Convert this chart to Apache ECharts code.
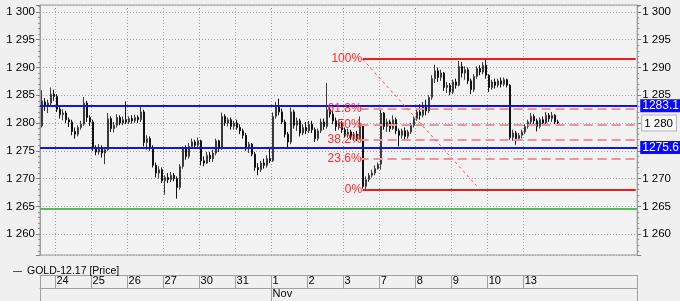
<!DOCTYPE html>
<html><head><meta charset="utf-8">
<script src="https://cdn.jsdelivr.net/npm/echarts@6/dist/echarts.min.js"></script>
<style>html,body{margin:0;padding:0;background:#f0f0f0}#c{width:680px;height:301px}</style>
</head><body><div id="c"></div>
<script>
// ---- data ----
const dayLabels = ['23','24','25','26','27','30','31','1','2','3','7','8','9','10','13'];
const barsPerDay = [5,12,12,12,12,12,12,12,12,12,12,12,12,12,12];
const monthLabel = 'Nov';
const monthStartDay = '1';
const futureSlots = 26;
// [open, close, low, high]
const candles = [
[1279.5,1284.0,1279.2,1285.9],[1283.8,1283.0,1282.2,1284.5],[1283.0,1283.6,1281.8,1284.2],[1283.6,1285.2,1283.0,1286.4],[1285.2,1284.8,1284.0,1286.0],
[1284.8,1282.5,1282.0,1285.2],[1282.5,1281.5,1280.8,1283.0],[1281.5,1281.8,1280.5,1282.5],[1281.8,1280.6,1280.0,1282.2],[1280.6,1280.2,1279.3,1281.0],[1280.2,1278.5,1277.8,1280.6],[1278.5,1278.0,1277.2,1279.2],[1278.0,1279.2,1277.6,1279.6],[1279.2,1279.8,1278.8,1280.4],[1279.8,1283.6,1279.5,1284.7],[1283.6,1281.0,1280.2,1284.0],[1281.0,1280.2,1279.5,1281.4],
[1280.2,1275.4,1275.0,1280.6],[1275.4,1274.8,1274.2,1276.0],[1274.8,1275.5,1274.3,1276.2],[1275.5,1274.6,1273.8,1276.0],[1274.6,1275.2,1272.6,1275.6],[1275.2,1280.8,1275.0,1281.8],[1280.8,1279.0,1278.4,1281.2],[1279.0,1279.6,1278.3,1280.2],[1279.6,1281.0,1279.2,1281.6],[1281.0,1280.0,1279.6,1281.4],[1280.0,1280.6,1279.6,1281.2],[1280.6,1280.2,1279.8,1283.9],
[1280.2,1280.8,1279.8,1281.2],[1280.8,1280.4,1279.9,1281.4],[1280.4,1281.0,1280.0,1281.5],[1281.0,1280.6,1280.0,1281.4],[1280.6,1282.0,1280.2,1282.9],[1282.0,1276.5,1275.8,1282.4],[1276.5,1277.2,1275.2,1277.8],[1277.2,1275.6,1275.0,1277.6],[1275.6,1272.4,1272.0,1276.0],[1272.4,1271.0,1270.2,1272.9],[1271.0,1271.6,1270.0,1272.2],[1271.6,1269.6,1269.2,1272.0],
[1269.6,1270.2,1267.1,1270.6],[1270.2,1269.8,1269.2,1271.0],[1269.8,1270.6,1269.4,1271.2],[1270.6,1270.0,1269.5,1271.0],[1270.0,1268.4,1266.4,1270.4],[1268.4,1272.2,1268.0,1272.6],[1272.2,1275.4,1271.8,1275.8],[1275.4,1274.0,1273.4,1276.0],[1274.0,1275.8,1273.6,1276.4],[1275.8,1276.6,1275.4,1277.2],[1276.6,1276.0,1275.6,1277.0],[1276.0,1276.8,1275.6,1277.4],
[1276.8,1273.2,1272.4,1277.0],[1273.2,1272.8,1272.2,1274.0],[1272.8,1274.2,1272.6,1274.8],[1274.2,1273.6,1273.0,1274.8],[1273.6,1274.6,1273.0,1275.2],[1274.6,1276.8,1274.2,1277.2],[1276.8,1275.4,1274.8,1277.0],[1275.4,1281.2,1275.2,1281.9],[1281.2,1280.0,1279.5,1281.6],[1280.0,1280.6,1279.4,1281.0],[1280.6,1279.4,1278.8,1281.0],[1279.4,1280.0,1278.8,1280.4],
[1280.0,1279.2,1278.8,1280.6],[1279.2,1278.6,1278.0,1279.8],[1278.6,1277.8,1277.2,1279.0],[1277.8,1275.4,1275.0,1278.2],[1275.4,1276.2,1274.6,1276.6],[1276.2,1274.4,1274.0,1276.4],[1274.4,1272.0,1271.4,1274.8],[1272.0,1271.6,1270.6,1272.8],[1271.6,1272.8,1271.2,1273.2],[1272.8,1272.4,1271.8,1273.6],[1272.4,1273.6,1272.0,1274.2],[1273.6,1273.2,1272.8,1275.4],
[1273.2,1281.2,1273.0,1281.9],[1281.2,1283.0,1280.8,1283.8],[1283.0,1282.0,1281.4,1284.4],[1282.0,1280.2,1279.8,1282.6],[1280.2,1278.0,1277.4,1280.6],[1278.0,1276.6,1275.4,1278.4],[1276.6,1282.0,1276.2,1282.8],[1282.0,1279.6,1279.0,1282.4],[1279.6,1280.4,1278.6,1281.0],[1280.4,1278.2,1277.6,1280.8],[1278.2,1279.2,1277.8,1279.8],[1279.2,1278.6,1278.0,1280.2],
[1278.6,1279.8,1278.2,1280.4],[1279.8,1278.8,1278.2,1280.4],[1278.8,1277.2,1276.6,1279.2],[1277.2,1278.6,1276.8,1279.0],[1278.6,1280.2,1278.2,1280.8],[1280.2,1279.4,1278.8,1280.8],[1279.4,1282.4,1279.0,1287.2],[1282.4,1281.6,1281.0,1283.0],[1281.6,1280.4,1279.8,1282.2],[1280.4,1279.4,1278.6,1281.0],[1279.4,1280.0,1278.8,1280.6],[1280.0,1278.8,1278.2,1280.4],
[1278.8,1278.0,1277.4,1279.2],[1278.0,1278.4,1277.4,1279.0],[1278.4,1277.6,1277.0,1278.8],[1277.6,1278.0,1276.8,1278.4],[1278.0,1277.2,1276.8,1278.6],[1277.2,1279.6,1277.0,1281.2],[1279.6,1268.6,1268.2,1279.8],[1268.6,1269.8,1268.0,1270.4],[1269.8,1270.6,1269.4,1271.0],[1270.6,1271.0,1270.2,1271.6],[1271.0,1271.8,1270.6,1272.4],[1271.8,1272.6,1271.6,1272.9],
[1272.6,1281.8,1271.6,1282.6],[1281.8,1279.4,1278.8,1282.0],[1279.4,1280.2,1278.4,1280.8],[1280.2,1279.0,1278.4,1280.6],[1279.0,1280.6,1278.8,1281.4],[1280.6,1278.6,1278.0,1281.0],[1278.6,1277.8,1275.8,1279.0],[1277.8,1278.6,1277.2,1279.0],[1278.6,1277.6,1277.0,1279.2],[1277.6,1278.4,1277.2,1278.8],[1278.4,1279.6,1278.0,1280.0],[1279.6,1280.8,1279.2,1281.2],
[1280.8,1282.0,1280.4,1282.6],[1282.0,1281.4,1280.6,1283.4],[1281.4,1283.2,1281.0,1283.8],[1283.2,1282.2,1281.4,1284.2],[1282.2,1284.6,1281.8,1285.0],[1284.6,1288.0,1284.2,1288.6],[1288.0,1289.4,1287.2,1290.5],[1289.4,1288.2,1287.4,1290.0],[1288.2,1289.0,1287.6,1289.6],[1289.0,1286.4,1285.8,1289.2],[1286.4,1286.8,1285.4,1287.4],[1286.8,1285.6,1285.0,1287.2],
[1285.6,1287.4,1285.2,1287.8],[1287.4,1286.8,1286.2,1288.0],[1286.8,1290.2,1286.6,1291.2],[1290.2,1289.0,1288.2,1291.0],[1289.0,1289.6,1287.8,1290.2],[1289.6,1287.6,1287.0,1290.0],[1287.6,1286.0,1285.2,1288.0],[1286.0,1288.4,1285.6,1288.8],[1288.4,1289.8,1288.0,1290.2],[1289.8,1289.2,1288.6,1290.4],[1289.2,1290.4,1288.8,1291.0],[1290.4,1288.6,1288.0,1291.4],
[1288.6,1286.4,1285.6,1288.8],[1286.4,1287.4,1286.0,1287.8],[1287.4,1286.8,1286.2,1288.0],[1286.8,1287.6,1286.4,1288.0],[1287.6,1287.0,1286.4,1288.2],[1287.0,1287.8,1286.6,1288.2],[1287.8,1286.8,1286.4,1288.0],[1286.8,1277.4,1277.0,1287.0],[1277.4,1278.2,1276.8,1278.8],[1278.2,1277.2,1276.1,1278.6],[1277.2,1277.8,1276.8,1278.2],[1277.8,1278.4,1277.2,1278.8],
[1278.4,1279.4,1278.0,1279.8],[1279.4,1280.2,1279.0,1280.6],[1280.2,1281.2,1279.8,1281.8],[1281.2,1280.4,1279.8,1281.6],[1280.4,1279.4,1278.5,1280.8],[1279.4,1280.6,1279.0,1281.0],[1280.6,1280.0,1279.6,1281.2],[1280.0,1281.4,1279.8,1282.0],[1281.4,1280.8,1280.2,1281.8],[1280.8,1281.4,1280.2,1282.0],[1281.4,1280.2,1279.8,1281.6],[1280.2,1280.0,1279.6,1280.6]
];
const yMin = 1256.25, yMax = 1301.25;
const supportLevels = [1283.1, 1275.6];
const greenLevel = 1264.5;
const fibHigh = 1291.5, fibLow = 1268.0;
const fibLevels = [0, 23.6, 38.2, 50, 61.8, 100];
const fibStartIdx = 107, fibDashStartIdx = 106, fibDiagEndIdx = 145, fibDiagEndValue = 1268.7;
const seriesName = 'GOLD-12.17 [Price]';

// ---- build categories ----
const cats = [];
const dayStart = new Set();
dayLabels.forEach((d, di) => {
  for (let k = 0; k < barsPerDay[di]; k++) {
    if (k === 0) dayStart.add(cats.length);
    cats.push(d + '-' + k);
  }
});
for (let j = 0; j < futureSlots; j++) cats.push('f' + j);
const lastIdx = cats.length - 1;
const firstIdx = 0;
let monthIdx = cats.indexOf(monthStartDay + '-0');

const fmtY = v => {
  const r = Math.round(v);
  if (Math.abs(v - r) > 1e-6 || r % 5 !== 0) return '';
  const s = String(r);
  return s.slice(0, s.length - 3) + ' ' + s.slice(-3);
};
const FONT = 'Liberation Sans';
const FS = 10.5;
const AFS = 11.5;
const red = '#ff2a2a';

const ml = [];
supportLevels.forEach(v => ml.push({
  yAxis: v,
  lineStyle: {color: '#1414e6', width: 2, type: 'solid'},
  label: {show: true, position: 'end', formatter: String(v), color: '#fff', backgroundColor: '#0a0aff',
          padding: [1, 4, 0, 2], fontSize: 12, fontFamily: FONT, distance: 3}
}));
ml.push({yAxis: greenLevel, lineStyle: {color: '#5cb85c', width: 2, type: 'solid'}, label: {show: false}});
fibLevels.forEach(p => {
  const v = fibLow + (fibHigh - fibLow) * p / 100;
  const solid = (p === 0 || p === 100);
  ml.push([
    {coord: [cats[solid ? fibStartIdx : fibDashStartIdx], v],
     lineStyle: solid ? {color: '#e81e1e', width: 2, type: 'solid'} : {color: '#f29494', width: 2, type: [9, 5]},
     label: {show: true, position: 'start', formatter: p + '%', color: red, fontSize: 12, fontFamily: FONT,
             distance: solid ? 0.5 : -2}},
    {coord: [cats[lastIdx], v]}
  ]);
});
ml.push([
  {coord: [cats[fibStartIdx], fibHigh], lineStyle: {color: '#ff5050', width: 1, type: [3, 3]}, label: {show: false}},
  {coord: [cats[fibDiagEndIdx], fibDiagEndValue]}
]);

const gridLineStyle = {color: '#a4a4a4', type: [1, 2], width: 1};
const chart = echarts.init(document.getElementById('c'), null, {renderer: 'canvas'});
chart.setOption({
  animation: false,
  backgroundColor: '#f0f0f0',
  textStyle: {fontFamily: FONT},
  legend: {
    left: 8, top: 261, itemWidth: 9, itemHeight: 1, itemGap: 4,
    textStyle: {fontSize: FS, color: '#000', fontFamily: FONT},
    data: [{name: seriesName, icon: 'rect', itemStyle: {color: '#555', borderWidth: 0}}]
  },
  grid: {left: 40, right: 37, top: 5, bottom: 46, show: true, borderColor: '#9c9c9c', borderWidth: 1, backgroundColor: '#f2f2f2'},
  xAxis: [
    {type: 'category', data: cats, boundaryGap: true, axisLine: {show: false}, axisTick: {show: false},
     axisLabel: {show: false},
     splitLine: {show: true, interval: (i) => dayStart.has(i) && i !== 0, lineStyle: gridLineStyle}},
    {type: 'category', data: cats, boundaryGap: true, position: 'bottom', offset: 20,
     axisLine: {show: true, lineStyle: {color: '#a0a0a0'}},
     axisTick: {show: true, interval: (i) => dayStart.has(i), length: 13, lineStyle: {color: '#a0a0a0'}},
     axisLabel: {show: true, interval: (i) => dayStart.has(i) && i !== 0, formatter: v => v.split('-')[0],
                 align: 'left', verticalAlign: 'middle', margin: 6, fontSize: FS + 0.5, color: '#000', fontFamily: FONT},
     splitLine: {show: false}},
    {type: 'category', data: cats, boundaryGap: true, position: 'bottom', offset: 33,
     axisLine: {show: true, lineStyle: {color: '#a0a0a0'}},
     axisTick: {show: true, interval: (i) => i === firstIdx || i === monthIdx, length: 13, lineStyle: {color: '#a0a0a0'}},
     axisLabel: {show: true, interval: (i) => i === monthIdx, formatter: () => monthLabel,
                 align: 'left', verticalAlign: 'middle', margin: 6, fontSize: FS + 0.5, color: '#000', fontFamily: FONT},
     splitLine: {show: false}}
  ],
  yAxis: [
    {type: 'value', min: yMin, max: yMax, splitNumber: 9, position: 'left', scale: true,
     axisLine: {show: true, lineStyle: {color: '#9c9c9c'}},
     axisTick: {show: true, length: 4, lineStyle: {color: '#808080'}},
     minorTick: {show: true, splitNumber: 5, length: 2, lineStyle: {color: '#909090'}},
     axisLabel: {formatter: fmtY, fontSize: AFS, color: '#000', margin: 5, fontFamily: FONT},
     splitLine: {show: true, lineStyle: gridLineStyle}},
    {type: 'value', min: yMin, max: yMax, splitNumber: 9, position: 'right', scale: true,
     axisLine: {show: true, lineStyle: {color: '#9c9c9c'}},
     axisTick: {show: true, length: 4, lineStyle: {color: '#808080'}},
     minorTick: {show: true, splitNumber: 5, length: 2, lineStyle: {color: '#909090'}},
     axisLabel: {formatter: v => { const s = fmtY(v); return Math.round(v) === 1280 && s ? '{box|' + s + '}' : s; },
                 fontSize: AFS, color: '#000', margin: 5, fontFamily: FONT,
                 rich: {box: {fontSize: AFS, fontFamily: FONT, color: '#000', borderColor: '#b4b4b4', borderWidth: 1,
                              backgroundColor: '#f7f7f7', padding: [2, 3, 1, 2]}}},
     splitLine: {show: false}}
  ],
  series: [{
    type: 'candlestick', name: seriesName, data: candles, xAxisIndex: 0, yAxisIndex: 0,
    barWidth: 1.5,
    itemStyle: {color: '#f4f4f4', color0: '#111111', borderColor: '#3a3a3a', borderColor0: '#111111', borderWidth: 1},
    markLine: {silent: true, symbol: ['none', 'none'], animation: false, data: ml}
  }]
});
</script></body></html>
